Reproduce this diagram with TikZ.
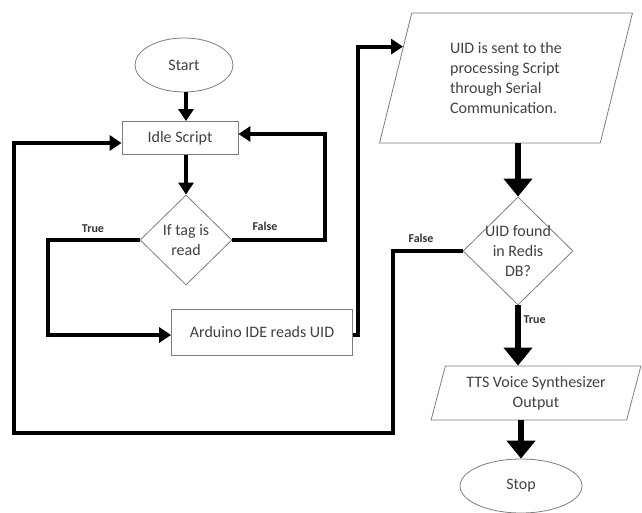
\documentclass[tikz,border=0pt]{standalone}
\usepackage{fontspec}
\setmainfont{Carlito}
\usepackage{tikz}
\usetikzlibrary{shapes.geometric, arrows.meta, calc}
\definecolor{boxline}{RGB}{125,125,125}
\definecolor{boxtext}{RGB}{65,65,65}

\begin{document}
\begin{tikzpicture}[x=1pt, y=-1pt,
    base/.style={draw=boxline, line width=0.8pt, text=boxtext, font=\fontsize{16}{20}\selectfont, align=center},
    term/.style={base, ellipse},
    proc/.style={base, rectangle},
    dec/.style={base, diamond, inner sep=0pt},
    io/.style={base, trapezium, trapezium stretches=true, inner sep=0pt},
    lbl/.style={font=\fontsize{12}{14}\selectfont\bfseries, text=black!80},
    flow/.style={-{Triangle[length=12pt, width=15pt]}, line width=4pt},
    bigflow/.style={-{Triangle[length=18pt, width=28pt]}, line width=6pt}
]
\useasboundingbox (0,0) rectangle (642,513);

\node[term, minimum width=98pt, minimum height=54pt] (start) at (184,65) {Start};
\node[proc, minimum width=116pt, minimum height=33pt] (idle) at (180,138) {Idle Script};
\node[dec, minimum width=92pt, minimum height=90pt] (tag) at (186,240) {If tag is\\read};
\node[proc, minimum width=181pt, minimum height=46pt] (ard) at (262,332) {Arduino IDE reads UID};
\node[io, align=left, trapezium left angle=75, trapezium right angle=105,
      minimum width=253pt, minimum height=130pt] (uid) at (506,78)
      {UID is sent to the\\processing Script\\through Serial\\Communication.};
\node[dec, inner sep=-3pt, minimum width=110pt, minimum height=108pt] (found) at (518,251) {UID found\\in Redis\\DB?};
\node[io, trapezium left angle=72, trapezium right angle=108,
      minimum width=210pt, minimum height=54pt] (tts) at (536,393)
      {TTS Voice Synthesizer\\Output};
\node[term, minimum width=122pt, minimum height=54pt] (stop) at (521,486) {Stop};

% labels on the branches
\node[lbl] (true1) at (93,229) {True};
\node[lbl] (false1) at (265,226) {False};
\node[lbl] (false2) at (421,238) {False};
\node[lbl, anchor=west] (true2) at (520,320) {True};

\coordinate (uidin) at ($(uid.bottom left corner)!0.74!(uid.top left corner)$);
\coordinate (loopbl) at (14,433);

\draw[flow] (start.south -| tag.north) -- (tag.north |- idle.north);
\draw[flow] (tag.north |- idle.south) -- (tag.north);
\draw[flow] (tag.east) -- ++(93,0) |- ([yshift=4pt]idle.east);
\draw[flow] (tag.west) -- ++(-92,0) |- ([yshift=-3pt]ard.west);
\draw[flow] ([yshift=-3pt]ard.east) -- ++(5,0) |- (uidin);
\draw[bigflow] (found.north |- uid.south) -- (found.north);
\draw[flow] (found.west) -- ++(-70,0) |- (loopbl) |- ([yshift=-5pt]idle.west);
\draw[bigflow] (found.south) -- (found.south |- tts.north);
\draw[bigflow] (stop.north |- tts.south) -- (stop.north);
\end{tikzpicture}
\end{document}
